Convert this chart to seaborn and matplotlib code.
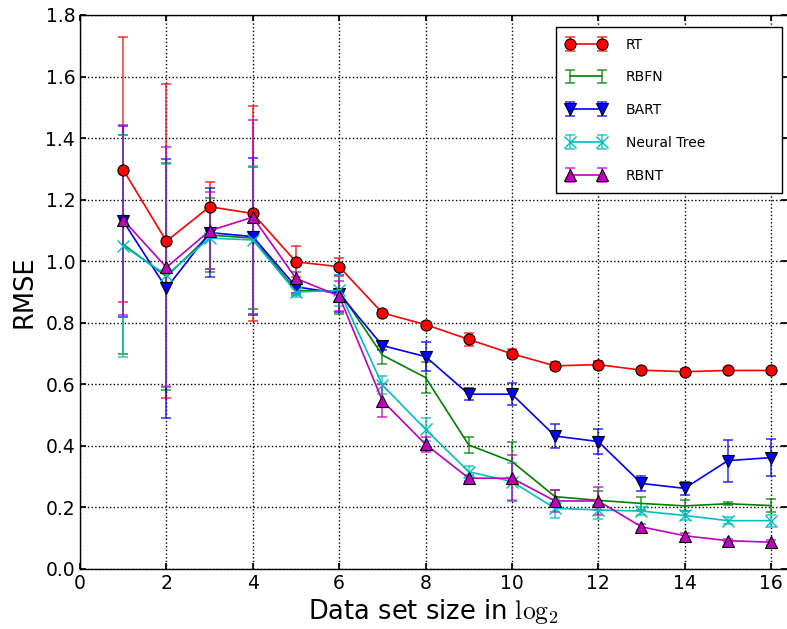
import matplotlib
matplotlib.use("Agg")
import matplotlib.pyplot as plt
from matplotlib.legend_handler import HandlerTuple
import numpy as np
import pandas as pd
import seaborn as sns

# Data set size (log2) on the x axis
sizes = list(range(1, 17))

# Mean RMSE and error-bar half widths per model
rt_rmse = [1.297, 1.065, 1.177, 1.155, 0.998, 0.982, 0.832, 0.794, 0.746, 0.699,
           0.660, 0.664, 0.646, 0.641, 0.645, 0.645]
rt_err = [0.43, 0.51, 0.08, 0.35, 0.05, 0.03, 0.01, 0.01, 0.02, 0.015,
          0.012, 0.012, 0.008, 0.008, 0.008, 0.008]

rbfn_rmse = [1.055, 0.950, 1.085, 1.075, 0.905, 0.903, 0.695, 0.622, 0.403, 0.349,
             0.235, 0.223, 0.213, 0.205, 0.212, 0.206]
rbfn_err = [0.355, 0.37, 0.12, 0.23, 0.015, 0.075, 0.03, 0.05, 0.025, 0.065,
            0.022, 0.03, 0.022, 0.018, 0.005, 0.02]

bart_rmse = [1.130, 0.912, 1.093, 1.080, 0.917, 0.895, 0.726, 0.690, 0.568, 0.568,
             0.432, 0.414, 0.278, 0.262, 0.352, 0.362]
bart_err = [0.31, 0.42, 0.145, 0.255, 0.02, 0.06, 0.015, 0.048, 0.02, 0.035,
            0.038, 0.04, 0.025, 0.02, 0.068, 0.06]

nt_rmse = [1.050, 0.955, 1.075, 1.069, 0.900, 0.905, 0.598, 0.454, 0.316, 0.284,
           0.197, 0.192, 0.188, 0.174, 0.157, 0.157]
nt_err = [0.36, 0.36, 0.10, 0.24, 0.015, 0.05, 0.03, 0.037, 0.02, 0.06,
          0.03, 0.03, 0.012, 0.015, 0.012, 0.02]

rbnt_rmse = [1.134, 0.980, 1.099, 1.143, 0.944, 0.887, 0.547, 0.405, 0.295, 0.295,
             0.221, 0.221, 0.137, 0.108, 0.092, 0.087]
rbnt_err = [0.31, 0.39, 0.125, 0.315, 0.02, 0.05, 0.054, 0.025, 0.01, 0.075,
            0.035, 0.045, 0.01, 0.01, 0.005, 0.008]

models = ["RT", "RBFN", "BART", "Neural Tree", "RBNT"]
means = [rt_rmse, rbfn_rmse, bart_rmse, nt_rmse, rbnt_rmse]
errors = [rt_err, rbfn_err, bart_err, nt_err, rbnt_err]

colors = {"RT": (1, 0, 0), "RBFN": (0, 0.5, 0), "BART": (0, 0, 1),
          "Neural Tree": (0, 0.75, 0.75), "RBNT": (0.75, 0, 0.75)}
markers = {"RT": "o", "RBFN": None, "BART": "v", "Neural Tree": "x", "RBNT": "^"}

sns.set_theme(style="ticks", rc={
    "axes.edgecolor": "black",
    "axes.linewidth": 1.0,
    "axes.labelcolor": "black",
    "text.color": "black",
    "xtick.direction": "in",
    "ytick.direction": "in",
    "xtick.top": True,
    "ytick.right": True,
    "xtick.major.size": 4,
    "ytick.major.size": 4,
    "xtick.color": "black",
    "ytick.color": "black",
    "axes.grid": True,
    "grid.color": "black",
    "grid.linestyle": ":",
    "grid.linewidth": 1.0,
    "mathtext.fontset": "cm",
})
plt.rcParams["font.family"] = ["DejaVu Sans"]

rows = []
for name, m, e in zip(models, means, errors):
    for s, v, d in zip(sizes, m, e):
        rows.append({"size": s, "rmse": v, "err": d, "model": name})
df = pd.DataFrame(rows)

fig = plt.figure(figsize=(7.87, 6.29), dpi=100)
ax = fig.add_axes([0.1017, 0.0954, 0.8983, 0.8808])

handles = []
for name in models:
    sub = df[df["model"] == name]
    c = colors[name]
    eb = ax.errorbar(sub["size"], sub["rmse"], yerr=sub["err"], fmt="none",
                     ecolor=c, elinewidth=1.2, capsize=3.5, capthick=1.2,
                     alpha=0.75, zorder=2)
    mk = markers[name]
    kws = dict(color=c, linewidth=1.2, zorder=3)
    if mk is not None:
        kws.update(marker=mk, markersize=8)
        if mk == "x":
            kws.update(markeredgecolor=c, markeredgewidth=1.0)
        else:
            kws.update(markerfacecolor=c, markeredgecolor="black",
                       markeredgewidth=0.8)
    sns.lineplot(data=sub, x="size", y="rmse", ax=ax, errorbar=None,
                 legend=False, **kws)
    line = ax.get_lines()[-1]
    handles.append((eb, line))

ax.set_xlim(0, 16.37)
ax.set_ylim(0, 1.8)
ax.set_xticks(np.arange(0, 17, 2))
ax.set_yticks(np.arange(0, 1.81, 0.2))
ax.set_yticklabels([f"{t:.1f}" for t in np.arange(0, 1.81, 0.2)])
ax.tick_params(labelsize=13.5)
ax.spines["right"].set_visible(False)
ax.set_xlabel(r"Data set size in $\log_2$", fontsize=18.5, labelpad=3)
ax.set_ylabel("RMSE", fontsize=18.5, labelpad=6)

leg = ax.legend(handles, models, loc="upper right", numpoints=2,
                handler_map={tuple: HandlerTuple(ndivide=1, pad=0.0)},
                fontsize=10, labelspacing=1.35, handlelength=2.9,
                handletextpad=1.4, borderaxespad=0.0, mode="expand",
                bbox_to_anchor=(0.673, 0.679, 0.320, 0.299),
                fancybox=False, framealpha=1.0, edgecolor="black",
                borderpad=0.75)
leg.get_frame().set_linewidth(1.0)

fig.savefig("out.png", dpi=100)
